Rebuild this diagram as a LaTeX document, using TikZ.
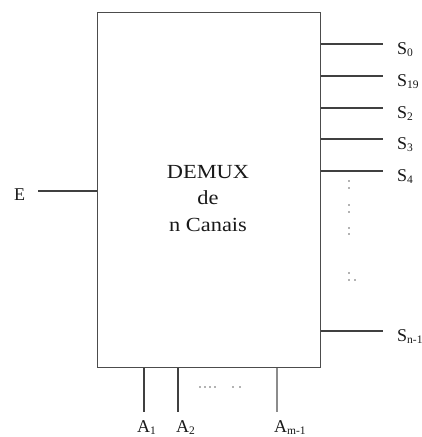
\documentclass[tikz,border=0pt]{standalone}
\usepackage{fontspec}
\setmainfont{Liberation Serif}
\begin{document}
\begin{tikzpicture}[x=1pt,y=-1pt,
  wire/.style={draw=black!75,line width=1.1pt},
  lbl/.style={inner sep=0pt,anchor=base west,font=\fontsize{18}{20}\selectfont,text=black!90},
  ttl/.style={inner sep=0pt,anchor=base,font=\fontsize{20}{24}\selectfont,text=black!90},
  dotm/.style={fill=black!60,circle,inner sep=0pt,minimum size=1.6pt}]
\useasboundingbox (0,0) rectangle (422,437);
\node[draw=black!70,line width=1.4pt,minimum width=223pt,minimum height=355pt,inner sep=0pt,anchor=north west] (box) at (97,12) {};
\node[ttl] (t1) at (208,178) {\scalebox{1.12}[1]{DEMUX}};
\node[ttl] (t2) at (208,204) {\scalebox{1.12}[1]{de}};
\node[ttl] (t3) at (208,231) {\scalebox{1.12}[1]{n Canais}};
% input E
\node[lbl] (E) at (14,200) {E};
\coordinate (Ee) at (38,191);
\draw[wire] (Ee) -- (box.west |- Ee);
% outputs
\foreach \n/\y/\t in {s0/44/0, s19/76/19, s2/108/2, s3/139/3, s4/171/4, sn/331/{n-1}}{
  \coordinate (\n e) at (383,\y);
  \node[lbl] (\n) at (397,\y+10) {S\textsubscript{\fontsize{11.5}{12}\selectfont\t}};
  \draw[wire] (box.east |- \n e) -- (\n e);
}
% vertical dots
\foreach \y [count=\i] in {181,188,205,212,228,234,273,280}{
  \node[dotm] (vd\i) at (349,\y) {};
}
\node[dotm] (vd9) at (355,280) {};
% address lines
\foreach \n/\x/\c in {a1/144/black!75, a2/178/black!75, am/277/black!45}{
  \coordinate (\n e) at (\x,412);
  \draw[draw=\c,line width=1.1pt] (box.south -| \n e) -- (\n e);
}
\node[lbl] (A1) at (137,432) {A\textsubscript{\fontsize{11.5}{12}\selectfont 1}};
\node[lbl] (A2) at (176,432) {A\textsubscript{\fontsize{11.5}{12}\selectfont 2}};
\node[lbl] (Am) at (274,432) {A\textsubscript{\fontsize{11.5}{12}\selectfont m-1}};
% horizontal dots
\foreach \x [count=\i] in {200,205,210,215,233,240}{
  \node[dotm] (hd\i) at (\x,387) {};
}
\end{tikzpicture}
\end{document}
